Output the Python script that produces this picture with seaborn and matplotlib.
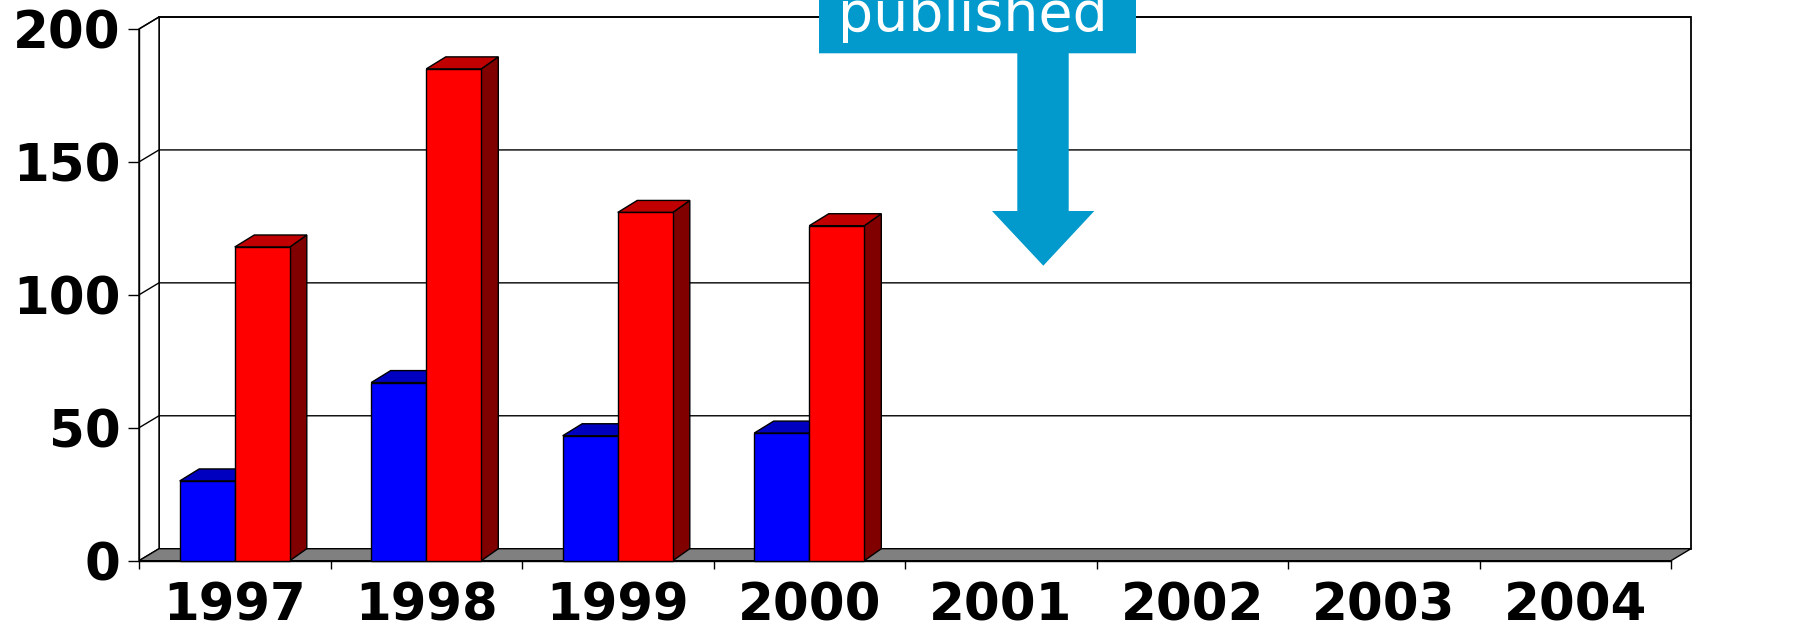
import numpy as np
import pandas as pd
import matplotlib
matplotlib.use("Agg")
import matplotlib.pyplot as plt
from matplotlib.patches import Polygon
import seaborn as sns

# ---- data -------------------------------------------------------------
years = ["1997", "1998", "1999", "2000", "2001", "2002", "2003", "2004"]
data_years = ["1997", "1998", "1999", "2000"]
series_a = [30, 67, 47, 48]       # blue columns
series_b = [118, 185, 131, 126]   # red columns
y_ticks = [0, 50, 100, 150, 200]

# ---- styling ----------------------------------------------------------
W_PX, H_PX, DPI = 1819, 632, 100
FRONT = {"Series A": "#0000FF", "Series B": "#FF0000"}
TOP = {"Series A": "#0000C0", "Series B": "#C00000"}
SIDE = {"Series A": "#000080", "Series B": "#800000"}
FLOOR = "#808080"
CALLOUT = "#029ACC"
LW = 1.0

df = pd.DataFrame({
    "year": data_years * 2,
    "count": series_a + series_b,
    "series": ["Series A"] * len(data_years) + ["Series B"] * len(data_years),
})

sns.set_style("white")
plt.rcParams["font.family"] = ["DejaVu Sans"]
plt.rcParams["text.color"] = "black"
plt.rcParams["xtick.color"] = "black"
plt.rcParams["ytick.color"] = "black"
plt.rcParams["xtick.labelcolor"] = "black"
plt.rcParams["ytick.labelcolor"] = "black"

fig = plt.figure(figsize=(W_PX / DPI, H_PX / DPI), dpi=DPI)
x0_px, x1_px = 139.0, 1671.0
y0_px, y1_px = 560.7, 29.0
ax = fig.add_axes([x0_px / W_PX, 1 - y0_px / H_PX,
                   (x1_px - x0_px) / W_PX, (y0_px - y1_px) / H_PX])

sns.barplot(data=df, x="year", y="count", hue="series",
            order=years, hue_order=["Series A", "Series B"],
            palette=[FRONT["Series A"], FRONT["Series B"]],
            width=0.575, saturation=1, edgecolor="black", linewidth=LW,
            legend=False, ax=ax)
bars = list(ax.patches)

ax.set_xlim(-0.5, len(years) - 0.5)
ax.set_ylim(0, 200)
ax.set_facecolor("none")

# pixel -> data conversion for the oblique depth
px_x = (x1_px - x0_px) / len(years)
px_y = (y0_px - y1_px) / 200.0
ddx, ddy = 20 / px_x, 12 / px_y          # walls / floor depth
bdl, bdr = 19.5 / px_x, 17 / px_x        # column depth (left, right edge)

xl, xr = -0.5, len(years) - 0.5
# floor
ax.add_patch(Polygon([(xl, 0), (xr, 0), (xr + ddx, ddy), (xl + ddx, ddy)],
                     closed=True, facecolor=FLOOR, edgecolor="black",
                     linewidth=LW, clip_on=False, zorder=1))
# back wall
ax.add_patch(Polygon([(xl + ddx, ddy), (xr + ddx, ddy), (xr + ddx, 200 + ddy),
                      (xl + ddx, 200 + ddy)], closed=True, facecolor="white",
                     edgecolor="black", linewidth=LW * 1.3, clip_on=False, zorder=0.8))
# side wall
ax.add_patch(Polygon([(xl, 0), (xl, 200), (xl + ddx, 200 + ddy), (xl + ddx, ddy)],
                     closed=True, facecolor="white", edgecolor="black",
                     linewidth=LW, clip_on=False, zorder=0.9))
# gridlines on back and side walls
for v in y_ticks[1:]:
    ax.plot([xl, xl + ddx, xr + ddx], [v, v + ddy, v + ddy], color="black",
            linewidth=LW, clip_on=False, zorder=1.5, solid_capstyle="butt")

# 3D faces for each column
bars_sorted = sorted(bars, key=lambda p: p.get_x())
for i, p in enumerate(bars_sorted):
    h = p.get_height()
    if not np.isfinite(h):
        continue
    bx0 = p.get_x()
    bx1 = bx0 + p.get_width()
    fc = matplotlib.colors.to_hex(p.get_facecolor())
    key = "Series A" if fc.lower() == FRONT["Series A"].lower() else "Series B"
    z = 3 + i * 0.1
    ax.add_patch(Polygon([(bx1, 0), (bx1, h), (bx1 + bdr, h + ddy), (bx1 + bdr, ddy)],
                         closed=True, facecolor=SIDE[key], edgecolor="black",
                         linewidth=LW, clip_on=False, zorder=z + 0.01))
    ax.add_patch(Polygon([(bx0, h), (bx1, h), (bx1 + bdr, h + ddy), (bx0 + bdl, h + ddy)],
                         closed=True, facecolor=TOP[key], edgecolor="black",
                         linewidth=LW, clip_on=False, zorder=z + 0.02))
    p.set_zorder(z + 0.03)
    p.set_clip_on(False)

# axes / ticks
for s in ["top", "right"]:
    ax.spines[s].set_visible(False)
for s in ["left", "bottom"]:
    ax.spines[s].set_color("black")
    ax.spines[s].set_linewidth(LW)
    ax.spines[s].set_zorder(2)

ax.set_yticks(y_ticks)
ax.set_yticklabels([str(v) for v in y_ticks], fontsize=37, fontweight="bold",
                   color="black")
ax.tick_params(axis="y", direction="out", length=7.9, width=LW, pad=5.5,
               color="black", labelcolor="black", left=True)
ax.set_xticks(range(len(years)))
ax.set_xticklabels(years, fontsize=37, fontweight="bold", color="black")
ax.set_xticks(np.arange(len(years) + 1) - 0.5, minor=True)
ax.tick_params(axis="x", which="major", length=0, pad=15, labelcolor="black")
ax.tick_params(axis="x", which="minor", direction="out", length=5.8,
               width=LW, color="black", bottom=True)
ax.set_xlabel("")
ax.set_ylabel("")
ax.grid(False)

# callout box with arrow
def fp(x, y):
    return (x / W_PX, 1 - y / H_PX)

callout = [fp(819, -5), fp(1136, -5), fp(1136, 53.3), fp(1068.7, 53.3),
           fp(1068.7, 211), fp(1094.3, 211), fp(1043.3, 265.7), fp(992, 211),
           fp(1017.3, 211), fp(1017.3, 53.3), fp(819, 53.3)]
fig.patches.append(Polygon(callout, closed=True, facecolor=CALLOUT,
                           edgecolor="none", transform=fig.transFigure,
                           figure=fig, zorder=10))
fig.text(972.5 / W_PX, 1 - 30.7 / H_PX, "published", color="white",
         fontsize=40, ha="center", va="baseline", zorder=11)

fig.savefig("out.png", dpi=DPI)
